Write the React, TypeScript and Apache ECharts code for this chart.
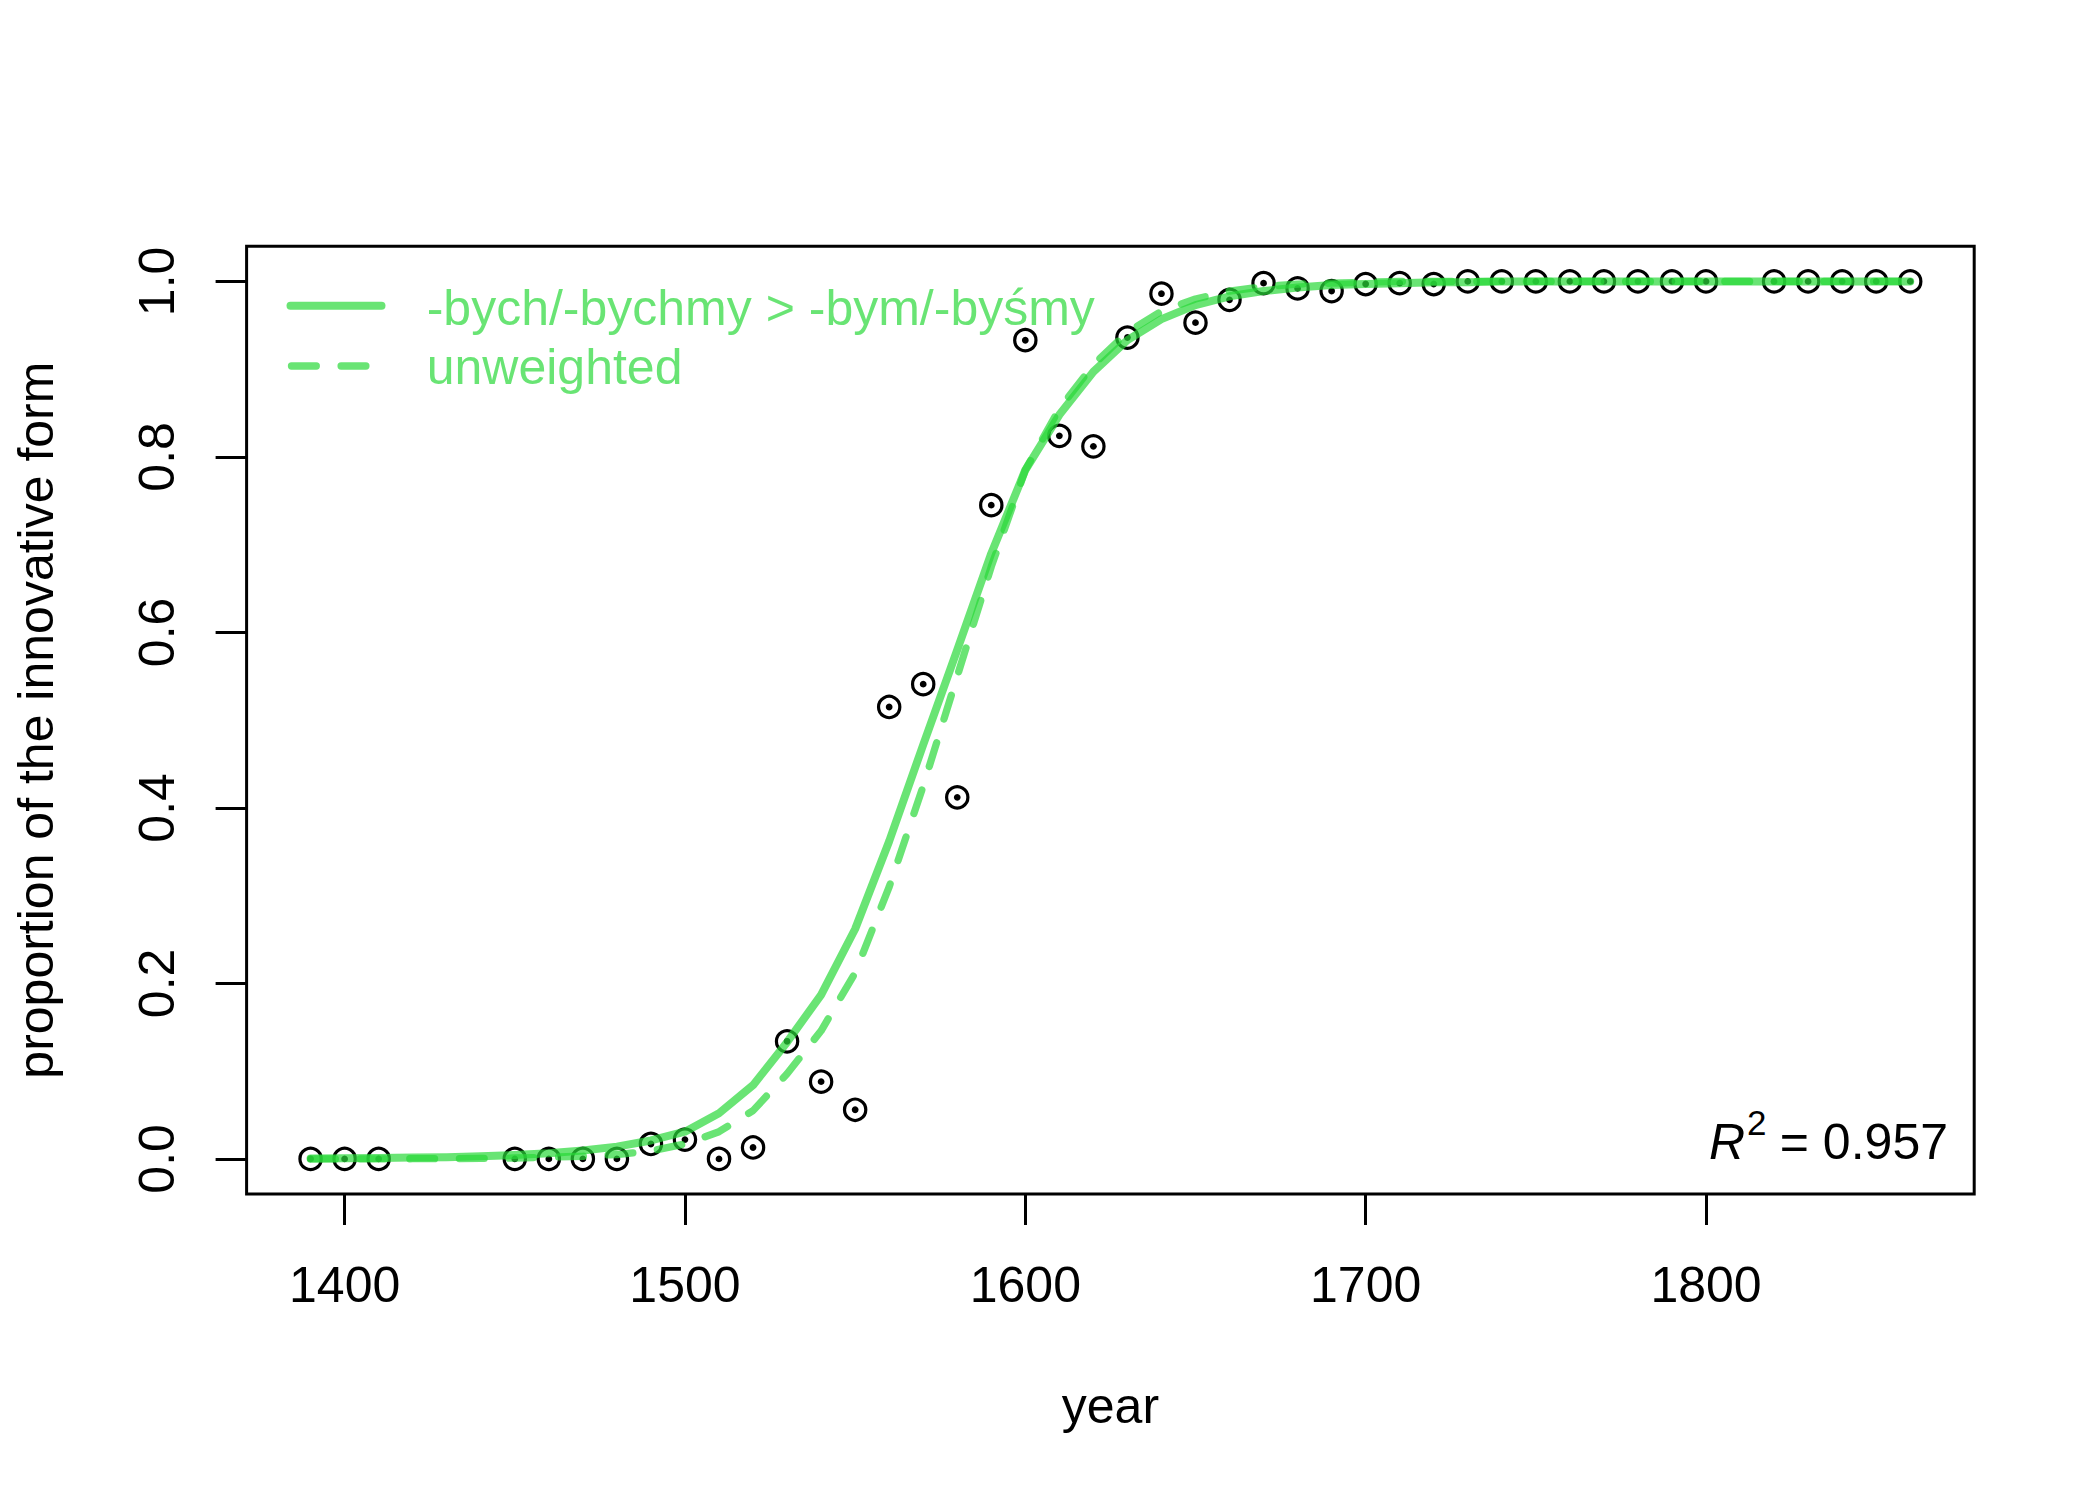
import React, { useEffect, useRef } from "react";
import * as echarts from "echarts";

// Observed data: year and proportion of the innovative form
const obsYears = [1390, 1400, 1410, 1450, 1460, 1470, 1480, 1490, 1500, 1510, 1520, 1530, 1540, 1550, 1560, 1570, 1580, 1590, 1600, 1610, 1620, 1630, 1640, 1650, 1660, 1670, 1680, 1690, 1700, 1710, 1720, 1730, 1740, 1750, 1760, 1770, 1780, 1790, 1800, 1820, 1830, 1840, 1850, 1860];
const obsValues = [0, 0, 0, 0, 0, 0, 0, 0.017, 0.022, 0, 0.013, 0.134, 0.088, 0.056, 0.515, 0.541, 0.412, 0.745, 0.933, 0.824, 0.812, 0.936, 0.986, 0.953, 0.979, 0.998, 0.992, 0.989, 0.997, 0.998, 0.997, 1, 1, 1, 1, 1, 1, 1, 1, 1, 1, 1, 1, 1];

// Fitted curves, read at each decade
const fitYears = [1390, 1400, 1410, 1420, 1430, 1440, 1450, 1460, 1470, 1480, 1490, 1500, 1510, 1520, 1530, 1540, 1550, 1560, 1570, 1580, 1590, 1600, 1610, 1620, 1630, 1640, 1650, 1660, 1670, 1680, 1690, 1700, 1710, 1720, 1730, 1740, 1750, 1760, 1770, 1780, 1790, 1800, 1810, 1820, 1830, 1840, 1850, 1860];
const weightedFit = [0.0005, 0.0007, 0.001, 0.0015, 0.002, 0.003, 0.0045, 0.0065, 0.0095, 0.014, 0.021, 0.031, 0.052, 0.084, 0.133, 0.187, 0.262, 0.362, 0.472, 0.58, 0.69, 0.785, 0.848, 0.897, 0.933, 0.957, 0.973, 0.983, 0.989, 0.993, 0.996, 0.997, 0.998, 0.999, 0.999, 1, 1, 1, 1, 1, 1, 1, 1, 1, 1, 1, 1, 1];
const unweightedFit = [0, 0, 0.0001, 0.0002, 0.0003, 0.0005, 0.001, 0.002, 0.003, 0.005, 0.009, 0.017, 0.031, 0.055, 0.097, 0.146, 0.212, 0.31, 0.425, 0.55, 0.675, 0.785, 0.855, 0.905, 0.942, 0.966, 0.98, 0.989, 0.994, 0.997, 0.998, 0.999, 1, 1, 1, 1, 1, 1, 1, 1, 1, 1, 1, 1, 1, 1, 1, 1];

const xTicks = [1400, 1500, 1600, 1700, 1800];
const yTicks = [0, 0.2, 0.4, 0.6, 0.8, 1.0];
const legendLabels = ["-bych/-bychmy > -bym/-byśmy", "unweighted"];
const r2Value = "0.957";

const GREEN = "rgba(42,216,57,0.7)";
const FONT = "'Liberation Sans', Arial, Helvetica, sans-serif";

export default function App() {
  const ref = useRef<HTMLDivElement>(null);

  useEffect(() => {
    if (!ref.current) return;
    const chart = echarts.init(ref.current, null, { renderer: "svg" });

    const obs = obsYears.map((y, i) => [y, obsValues[i]]);
    const wfit = fitYears.map((y, i) => [y, weightedFit[i]]);
    const ufit = fitYears.map((y, i) => [y, unweightedFit[i]]);

    const option: any = {
      animation: false,
      backgroundColor: "#ffffff",
      textStyle: { fontFamily: FONT },
      grid: {
        left: 246.6,
        right: 125.8,
        top: 246.3,
        bottom: 306,
        show: true,
        borderColor: "#000",
        borderWidth: 3,
        backgroundColor: "rgba(0,0,0,0)",
        containLabel: false,
      },
      xAxis: {
        type: "value",
        min: 1371.2,
        max: 1878.8,
        axisLine: { show: false, onZero: false },
        splitLine: { show: false },
        axisTick: {
          show: true,
          customValues: xTicks,
          length: 31,
          lineStyle: { color: "#000", width: 3 },
        },
        axisLabel: {
          customValues: xTicks,
          margin: 66,
          fontSize: 50,
          fontFamily: FONT,
          color: "#000",
          formatter: (v: number) => String(v),
        },
        name: "year",
        nameLocation: "middle",
        nameGap: 187,
        nameTextStyle: { fontSize: 50, fontFamily: FONT, color: "#000" },
      },
      yAxis: {
        type: "value",
        min: -0.04,
        max: 1.04,
        axisLine: { show: false, onZero: false },
        splitLine: { show: false },
        axisTick: {
          show: true,
          customValues: yTicks,
          length: 31,
          lineStyle: { color: "#000", width: 3 },
        },
        axisLabel: {
          customValues: yTicks,
          rotate: 90,
          margin: 65,
          fontSize: 50,
          fontFamily: FONT,
          color: "#000",
          formatter: (v: number) => v.toFixed(1),
        },
        name: "proportion of the innovative form",
        nameLocation: "middle",
        nameGap: 186,
        nameTextStyle: { fontSize: 50, fontFamily: FONT, color: "#000" },
      },
      series: [
        {
          name: "observed",
          type: "scatter",
          data: obs,
          symbol: "circle",
          symbolSize: 21.3,
          itemStyle: { color: "rgba(0,0,0,0)", borderColor: "#000", borderWidth: 3.2, opacity: 1 },
          silent: true,
        },
        {
          name: "observed-centre",
          type: "scatter",
          data: obs,
          symbol: "circle",
          symbolSize: 6.8,
          itemStyle: { color: "#000", opacity: 1 },
          silent: true,
        },
        {
          name: legendLabels[0],
          type: "line",
          data: wfit,
          showSymbol: false,
          symbol: "none",
          lineStyle: { color: GREEN, width: 8, cap: "round", join: "round" },
          silent: true,
        },
        {
          name: legendLabels[1],
          type: "line",
          data: ufit,
          showSymbol: false,
          symbol: "none",
          lineStyle: { color: GREEN, width: 7.3, type: [24.8, 24.8], cap: "round", join: "round" },
          silent: true,
        },
      ],
      graphic: [
        {
          type: "line",
          shape: { x1: 290.5, y1: 305.7, x2: 381.5, y2: 305.7 },
          style: { stroke: GREEN, lineWidth: 8, lineCap: "round" },
          silent: true,
        },
        {
          type: "line",
          shape: { x1: 291.5, y1: 366, x2: 385, y2: 366 },
          style: { stroke: GREEN, lineWidth: 7.3, lineCap: "round", lineDash: [24.8, 24.8] },
          silent: true,
        },
        {
          type: "text",
          x: 426.7,
          y: 307.7,
          style: { text: legendLabels[0], fill: GREEN, font: `50px ${FONT}`, textAlign: "left", textVerticalAlign: "middle" },
          silent: true,
        },
        {
          type: "text",
          x: 426.7,
          y: 366.7,
          style: { text: legendLabels[1], fill: GREEN, font: `50px ${FONT}`, textAlign: "left", textVerticalAlign: "middle" },
          silent: true,
        },
        {
          type: "text",
          x: 1948,
          y: 1141.7,
          style: { text: "= " + r2Value, fill: "#000", font: `50px ${FONT}`, textAlign: "right", textVerticalAlign: "middle" },
          silent: true,
        },
        {
          type: "text",
          x: 1709,
          y: 1141.7,
          style: { text: "R", fill: "#000", font: `italic 50px ${FONT}`, textAlign: "left", textVerticalAlign: "middle" },
          silent: true,
        },
        {
          type: "text",
          x: 1747,
          y: 1122.9,
          style: { text: "2", fill: "#000", font: `35px ${FONT}`, textAlign: "left", textVerticalAlign: "middle" },
          silent: true,
        },
      ],
    };

    chart.setOption(option);
    return () => {
      chart.dispose();
    };
  }, []);

  return (
    <div
      ref={ref}
      style={{ position: "absolute", left: 0, top: 0, width: 2100, height: 1500, background: "#fff" }}
    />
  );
}
